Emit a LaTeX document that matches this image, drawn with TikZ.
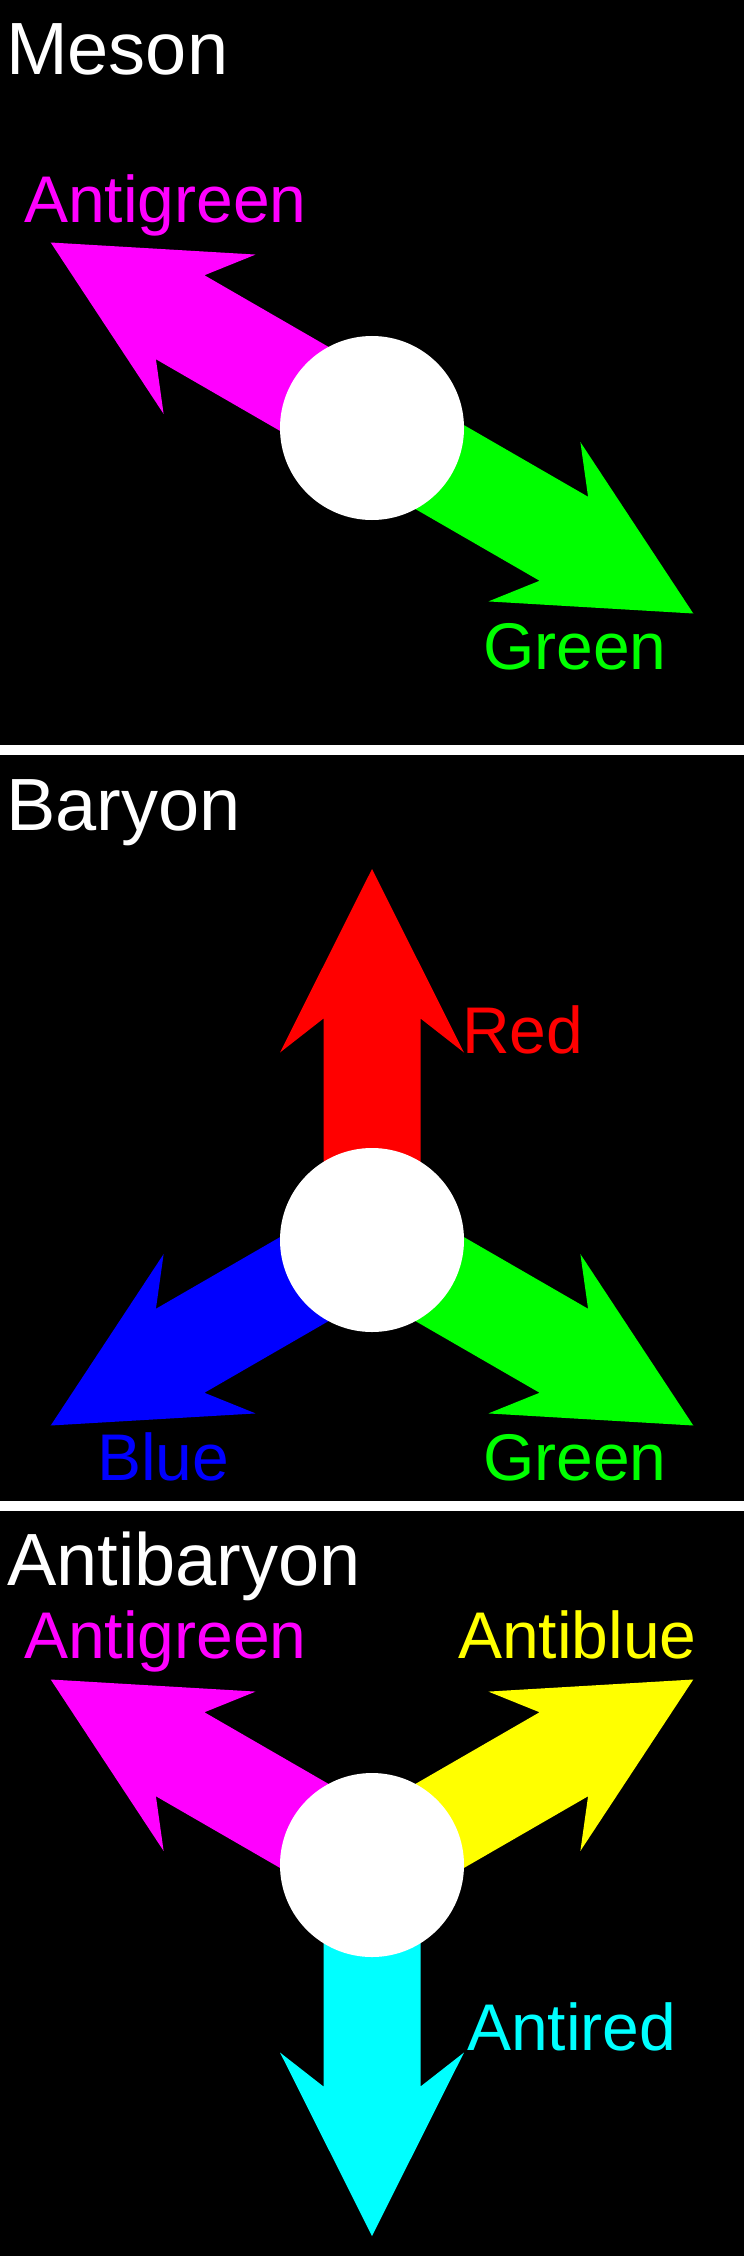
\documentclass[tikz,border=0pt]{standalone}
\usepackage{fontspec}
\setmainfont{Liberation Sans}
\definecolor{qred}{RGB}{255,0,0}
\definecolor{qgreen}{RGB}{0,255,0}
\definecolor{qblue}{RGB}{0,0,255}
\definecolor{qmagenta}{RGB}{255,0,255}
\definecolor{qyellow}{RGB}{255,255,0}
\definecolor{qcyan}{RGB}{0,255,255}
\tikzset{
  title/.style={anchor=base west, inner sep=0pt, text=white, font=\fontsize{74bp}{88bp}\selectfont},
  lbl/.style={anchor=base west, inner sep=0pt, font=\fontsize{66bp}{79bp}\selectfont},
  core/.style={circle, fill=white, minimum size=184bp, inner sep=0pt},
  sepline/.style={fill=white},
  quark/.pic={\fill[#1] (0,48.5) -- (221.5,48.5) -- (187.5,92) -- (371,0) -- (187.5,-92) -- (221.5,-48.5) -- (0,-48.5) -- cycle;}
}
\begin{document}
\begin{tikzpicture}[x=1bp,y=-1bp]
\useasboundingbox (0,0) rectangle (744,2256);
\fill[black] (-20,-20) rectangle (764,2276);
% separators
\fill[sepline] (-20,745) rectangle (764,755);
\fill[sepline] (-20,1500.5) rectangle (764,1510.5);

% ---- Meson ----
\node[title] (tm) at (6,75) {Meson};
\coordinate (mc) at (372,428);
\pic[rotate=150] at (mc) {quark=qmagenta};
\pic[rotate=-30] at (mc) {quark=qgreen};
\node[core] (m) at (mc) {};
\node[lbl, text=qmagenta] (m1) at (24,223) {Antigreen};
\node[lbl, text=qgreen] (m2) at (483,669) {Green};

% ---- Baryon ----
\node[title] (tb) at (6,830) {Baryon};
\coordinate (bc) at (372,1240);
\pic[rotate=90] at (bc) {quark=qred};
\pic[rotate=-30] at (bc) {quark=qgreen};
\pic[rotate=210] at (bc) {quark=qblue};
\node[core] (b) at (bc) {};
\node[lbl, text=qred] (b1) at (462,1053) {Red};
\node[lbl, text=qblue] (b2) at (97,1480) {Blue};
\node[lbl, text=qgreen] (b3) at (483,1480) {Green};

% ---- Antibaryon ----
\node[title] (ta) at (7,1585) {Antibaryon};
\coordinate (ac) at (372,1865);
\pic[rotate=150] at (ac) {quark=qmagenta};
\pic[rotate=30] at (ac) {quark=qyellow};
\pic[rotate=270] at (ac) {quark=qcyan};
\node[core] (a) at (ac) {};
\node[lbl, text=qmagenta] (a1) at (24,1658) {Antigreen};
\node[lbl, text=qyellow] (a2) at (458,1658) {Antiblue};
\node[lbl, text=qcyan] (a3) at (467,2050) {Antired};
\end{tikzpicture}
\end{document}
